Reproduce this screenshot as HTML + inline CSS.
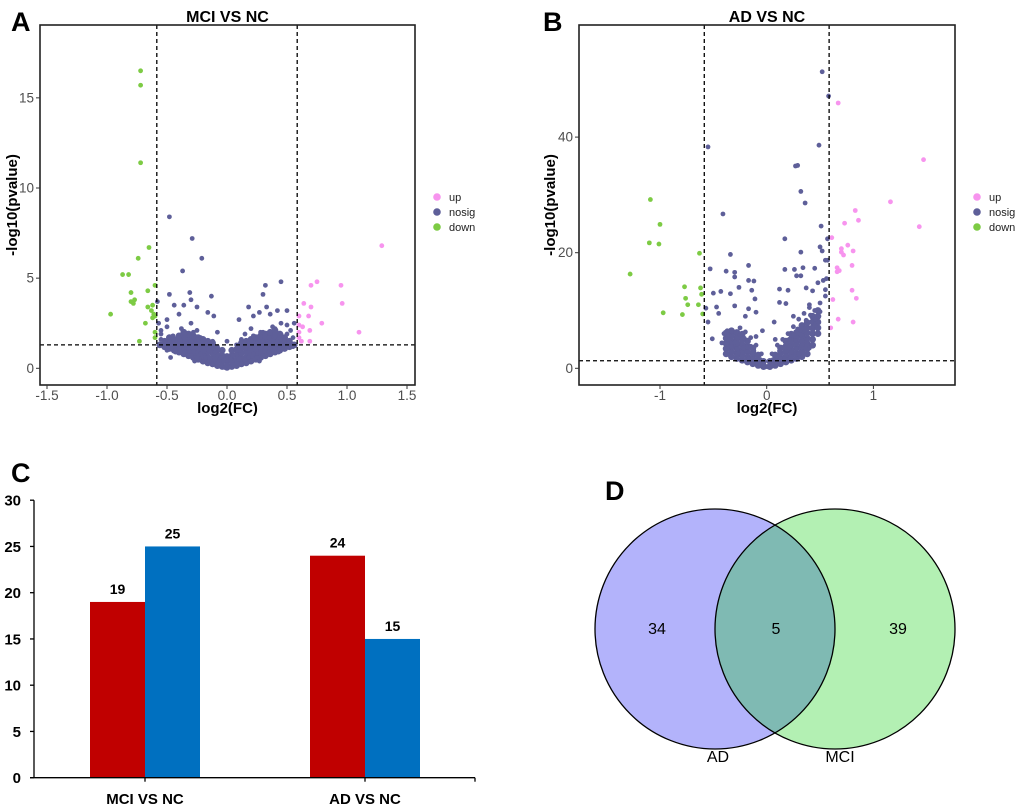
<!DOCTYPE html>
<html><head><meta charset="utf-8">
<style>
html,body{margin:0;padding:0;background:#fff;}
svg{display:block;font-family:"Liberation Sans",Arial,sans-serif;}
</style></head>
<body>
<svg id="fig" width="1020" height="807" viewBox="0 0 1020 807" xmlns="http://www.w3.org/2000/svg">
<defs>
<clipPath id="clipA"><rect x="40" y="25" width="375" height="360"/></clipPath>
<clipPath id="clipB"><rect x="579" y="25" width="376" height="360"/></clipPath>
</defs>
<g id="panelA"></g>
<g id="panelB"></g>
<g id="panelC"></g>
<g id="panelD">
  <text x="605" y="500" font-size="27" font-weight="bold">D</text>
  <circle cx="715" cy="629" r="120" fill="#b3b3fb"/>
  <circle cx="835" cy="629" r="120" fill="#b3f0b3"/>
  <path d="M775,525 A120,120 0 0 1 775,733 A120,120 0 0 1 775,525 Z" fill="#7fbab3"/>
  <circle cx="715" cy="629" r="120" fill="none" stroke="#000" stroke-width="1.3"/>
  <circle cx="835" cy="629" r="120" fill="none" stroke="#000" stroke-width="1.3"/>
  <text x="657" y="634" font-size="16" text-anchor="middle">34</text>
  <text x="776" y="634" font-size="16" text-anchor="middle">5</text>
  <text x="898" y="634" font-size="16" text-anchor="middle">39</text>
  <text x="718" y="762" font-size="16" text-anchor="middle">AD</text>
  <text x="840" y="762" font-size="16" text-anchor="middle">MCI</text>
</g>
</svg>
<script>
const NS="http://www.w3.org/2000/svg";
function mk(parent,tag,attrs,text){const e=document.createElementNS(NS,tag);for(const k in attrs)e.setAttribute(k,attrs[k]);if(text!==undefined)e.textContent=text;parent.appendChild(e);return e;}

// ---------- Panel A data ----------
const aXTicks=[-1.5,-1.0,-0.5,0.0,0.5,1.0,1.5];
const aXTickLabels=["-1.5","-1.0","-0.5","0.0","0.5","1.0","1.5"];
const aYTicks=[0,5,10,15];
const aDown=[[-0.72,16.5],[-0.72,15.7],[-0.72,11.4],[-0.65,6.7],[-0.74,6.1],[-0.87,5.2],[-0.82,5.2],[-0.8,4.2],[-0.6,4.6],[-0.66,4.3],[-0.8,3.7],[-0.78,3.6],[-0.77,3.8],[-0.66,3.4],[-0.62,3.5],[-0.63,3.2],[-0.61,3.0],[-0.62,2.8],[-0.97,3.0],[-0.68,2.5],[-0.6,2.0],[-0.6,1.7],[-0.73,1.5],[-0.6,2.9]];
const aUp=[[1.29,6.8],[0.75,4.8],[0.7,4.6],[0.95,4.6],[0.96,3.6],[0.64,3.6],[0.7,3.4],[0.6,2.9],[0.68,2.9],[0.79,2.5],[0.63,2.3],[0.69,2.1],[0.6,2.0],[1.1,2.0],[0.6,1.7],[0.62,1.5],[0.69,1.5],[0.6,2.4]];
const aNosig=[[-0.48,8.4],[-0.29,7.2],[-0.21,6.1],[-0.37,5.4],[0.45,4.8],[0.32,4.6],[-0.31,4.2],[-0.48,4.1],[-0.13,4.0],[0.3,4.1],[-0.58,3.7],[-0.3,3.8],[-0.44,3.5],[-0.36,3.5],[-0.25,3.4],[0.18,3.4],[0.33,3.4],[-0.16,3.1],[0.42,3.2],[0.5,3.2],[0.27,3.1],[-0.11,2.9],[0.22,2.9],[0.36,3.0],[-0.4,3.0],[-0.5,2.7],[-0.57,2.5],[0.56,2.5],[0.1,2.7],[-0.3,2.5],[0.45,2.5],[-0.55,2.1],[0.4,2.2],[-0.08,2.0],[0.2,2.2],[0.5,1.9],[-0.45,1.6],[0.55,1.2],[-0.47,0.6],[-0.5,1.0],[-0.43,0.9],[0.48,1.4],[-0.35,1.9],[-0.25,2.1],[0.3,2.0],[0.15,1.9],[0.0,1.5],
[-0.02,0.05],[0.02,0.1],[0,0.2],[-0.05,0.15],[0.05,0.2],[-0.08,0.3],[0.08,0.3],[-0.1,0.5],[0.1,0.5],[-0.12,0.2],[0.12,0.25],[-0.15,0.4],[0.15,0.45],[-0.18,0.6],[0.18,0.6],[-0.2,0.35],[0.2,0.4],[-0.22,0.8],[0.22,0.8],[-0.25,0.55],[0.25,0.6],[-0.28,0.9],[0.28,0.9],[-0.3,0.7],[0.3,0.7],[-0.32,1.1],[0.32,1.1],[-0.35,0.9],[0.35,0.9],[-0.38,1.3],[0.38,1.3],[-0.4,1.1],[0.4,1.1],[-0.42,1.4],[0.42,1.5],[-0.45,1.2],[0.45,1.3],[-0.48,1.5],[0.48,1.6],[-0.52,1.3],[0.52,1.4],[-0.05,0.6],[0.05,0.7],[-0.1,0.9],[0.1,1.0],[-0.15,1.0],[0.15,1.1],[-0.2,1.2],[0.2,1.3],[-0.25,1.3],[0.25,1.4],[-0.3,1.5],[0.3,1.5],[-0.35,1.6],[0.35,1.7],[-0.4,1.7],[0.4,1.8],[-0.45,1.8],[0.45,1.9],[-0.12,1.5],[0.12,1.6],[-0.22,1.7],[0.22,1.8],[-0.28,2.0],[0.28,2.0],[-0.38,2.2],[0.38,2.3],[-0.5,2.3],[0.5,2.4],[-0.08,1.2],[0.08,1.3],[-0.18,1.4],[0.18,1.5],[-0.33,1.3],[0.33,1.3],[-0.43,1.0],[0.43,0.9],[-0.27,0.4],[0.27,0.4],[-0.03,0.4],[0.03,0.5],[-0.55,1.6],[0.55,1.7],[-0.55,1.9],[0.53,2.1]];
const aCore=[[0,0.05],[0,0.35],[0,0.65],[-0.04,0.1],[0.04,0.1],[-0.04,0.4],[0.04,0.4],[-0.04,0.7],[0.04,0.7],[-0.04,1.0],[0.04,1.0],
[-0.08,0.15],[0.08,0.15],[-0.08,0.45],[0.08,0.45],[-0.08,0.75],[0.08,0.75],[-0.08,1.05],[0.08,1.05],
[-0.12,0.25],[0.12,0.25],[-0.12,0.55],[0.12,0.55],[-0.12,0.85],[0.12,0.85],[-0.12,1.15],[0.12,1.15],[-0.12,1.4],[0.12,1.4],
[-0.16,0.3],[0.16,0.3],[-0.16,0.6],[0.16,0.6],[-0.16,0.9],[0.16,0.9],[-0.16,1.2],[0.16,1.2],[-0.16,1.5],[0.16,1.5],
[-0.2,0.4],[0.2,0.4],[-0.2,0.7],[0.2,0.7],[-0.2,1.0],[0.2,1.0],[-0.2,1.3],[0.2,1.3],[-0.2,1.6],[0.2,1.6],
[-0.24,0.5],[0.24,0.5],[-0.24,0.8],[0.24,0.8],[-0.24,1.1],[0.24,1.1],[-0.24,1.4],[0.24,1.4],[-0.24,1.7],[0.24,1.7],
[-0.28,0.6],[0.28,0.6],[-0.28,0.9],[0.28,0.9],[-0.28,1.2],[0.28,1.2],[-0.28,1.5],[0.28,1.5],[-0.28,1.8],[0.28,1.8],
[-0.32,0.7],[0.32,0.7],[-0.32,1.0],[0.32,1.0],[-0.32,1.3],[0.32,1.3],[-0.32,1.6],[0.32,1.6],[-0.32,1.9],[0.32,1.9],
[-0.36,0.8],[0.36,0.8],[-0.36,1.1],[0.36,1.1],[-0.36,1.4],[0.36,1.4],[-0.36,1.7],[0.36,1.7],[-0.36,2.0],[0.36,2.0],
[-0.4,0.9],[0.4,0.9],[-0.4,1.2],[0.4,1.2],[-0.4,1.5],[0.4,1.5],[-0.4,1.8],[0.4,1.8],[0.4,2.1],
[-0.44,1.0],[0.44,1.0],[-0.44,1.3],[0.44,1.3],[-0.44,1.6],[0.44,1.6],[0.44,1.9],
[-0.48,1.1],[0.48,1.1],[-0.48,1.4],[0.48,1.4],[-0.48,1.7],[0.48,1.7],
[-0.52,1.2],[0.52,1.2],[-0.52,1.5],[0.52,1.5],[-0.56,1.3],[0.56,1.3]];

// ---------- Panel B data ----------
const bXTicks=[-1,0,1];
const bXTickLabels=["-1","0","1"];
const bYTicks=[0,20,40];
const bDown=[[-1.28,16.3],[-1.09,29.2],[-1.0,24.9],[-1.1,21.7],[-1.01,21.5],[-0.63,19.9],[-0.77,14.1],[-0.62,13.9],[-0.61,12.8],[-0.76,12.1],[-0.74,11.0],[-0.64,11.0],[-0.97,9.6],[-0.79,9.3],[-0.6,9.4]];
const bUp=[[0.67,45.9],[1.47,36.1],[1.16,28.8],[0.83,27.3],[0.86,25.6],[0.73,25.1],[1.43,24.5],[0.61,22.6],[0.76,21.3],[0.7,20.7],[0.7,20.1],[0.81,20.3],[0.72,19.6],[0.66,17.4],[0.68,16.9],[0.66,16.7],[0.8,17.8],[0.8,13.5],[0.84,12.1],[0.62,11.9],[0.67,8.5],[0.81,8.0],[0.6,7.0]];
const bNosig=[[0.52,51.3],[0.58,47.1],[-0.55,38.3],[0.49,38.6],[0.27,35.0],[0.29,35.1],[0.32,30.6],[0.36,28.6],[-0.41,26.7],[0.51,24.6],[0.17,22.4],[0.57,22.4],[0.5,21.0],[0.32,20.1],[0.52,20.3],[-0.34,19.7],[0.55,18.7],[0.57,18.7],[-0.17,17.8],[-0.53,17.2],[0.17,17.1],[0.26,17.1],[0.34,17.4],[0.45,17.3],[-0.38,16.8],[-0.3,16.6],[-0.3,15.8],[-0.17,15.2],[-0.12,15.1],[0.28,16.0],[0.32,16.0],[0.53,15.2],[0.56,15.5],[0.48,14.8],[-0.5,13.0],[-0.43,13.3],[-0.34,12.9],[-0.26,14.0],[-0.14,13.5],[-0.11,12.0],[0.12,13.7],[0.2,13.5],[0.37,13.9],[0.43,13.4],[0.55,13.6],[-0.57,10.4],[-0.47,10.6],[-0.3,10.8],[-0.17,10.3],[-0.1,9.7],[0.12,11.4],[0.18,11.2],[0.4,11.0],[0.5,11.3],[0.55,12.5],[-0.55,8.0],[-0.45,9.5],[-0.2,9.0],[0.07,8.0],[0.25,9.0],[0.44,9.0],[0.46,8.5],[-0.51,5.1],[-0.42,4.4],[-0.1,5.5],[0.38,4.6],[-0.04,6.5],[0.08,5.0],
[0,0.3],[-0.03,0.8],[0.03,0.8],[-0.06,1.5],[0.06,1.5],[-0.09,2.3],[0.09,2.2],[-0.12,3],[0.12,3],[-0.15,3.8],[0.15,3.6],[-0.18,4.6],[0.18,4.3],[-0.21,5.2],[0.21,5],[-0.25,5.8],[0.25,5.8],[-0.29,6.2],[0.29,6.8],[-0.33,6.4],[0.33,7.5],[-0.37,6.5],[0.37,8.3],[-0.4,6],[0.41,9.2],[0.45,10],[-0.08,1],[0.08,1],[-0.13,1.6],[0.13,1.6],[-0.18,2.2],[0.18,2.2],[-0.23,2.8],[0.23,2.8],[-0.28,3.4],[0.28,3.4],[-0.33,3.8],[0.33,4],[-0.38,4.2],[0.38,5],[0.43,6.5],[-0.05,2.5],[0.05,2.5],[-0.1,4],[0.1,4],[-0.15,5.3],[0.15,5],[-0.2,6.3],[0.2,6],[-0.25,7],[0.25,7.2],[0.3,8.5],[0.35,9.5],[0.4,10.5],[0.45,7.5],[-0.35,5],[-0.3,4.5],[-0.22,3.5],[0.22,3.8],[0.27,4.8],[0.32,5.8],[0.36,6.5],[0.42,8],[0.47,9],[0.5,9.8],[-0.12,1.2],[0.12,1.3],[-0.02,0.2],[0.02,0.2],[-0.27,2.6],[0.4,3.5],[0.17,1.6],[-0.17,1.6],[0.3,2.5],[-0.06,0.6],[0.06,0.6]];
const bCore=[[-0.03,0.3],[0.03,0.3],[-0.03,1.2],[0.03,1.2],
[-0.08,0.5],[0.08,0.5],[-0.08,1.4],[0.08,1.4],[-0.08,2.3],[0.08,2.3],
[-0.13,0.8],[0.13,0.8],[-0.13,1.7],[0.13,1.7],[-0.13,2.6],[0.13,2.6],[-0.13,3.5],[0.13,3.5],
[-0.18,1.1],[0.18,1.1],[-0.18,2.0],[0.18,2.0],[-0.18,2.9],[0.18,2.9],[-0.18,3.8],[0.18,3.8],[-0.18,4.7],[0.18,4.7],
[-0.23,1.4],[0.23,1.4],[-0.23,2.3],[0.23,2.3],[-0.23,3.2],[0.23,3.2],[-0.23,4.1],[0.23,4.1],[-0.23,5.0],[0.23,5.0],[-0.23,5.9],[0.23,5.9],
[-0.28,1.7],[0.28,1.7],[-0.28,2.6],[0.28,2.6],[-0.28,3.5],[0.28,3.5],[-0.28,4.4],[0.28,4.4],[-0.28,5.3],[0.28,5.3],[-0.28,6.2],[0.28,6.2],
[-0.33,2.0],[0.33,2.0],[-0.33,2.9],[0.33,2.9],[-0.33,3.8],[0.33,3.8],[-0.33,4.7],[0.33,4.7],[-0.33,5.6],[0.33,5.6],[-0.33,6.5],[0.33,6.5],[0.33,7.4],
[-0.38,2.5],[0.38,2.5],[-0.38,3.4],[0.38,3.4],[-0.38,4.3],[0.38,4.3],[-0.38,5.2],[0.38,5.2],[-0.38,6.1],[0.38,6.1],[0.38,7.0],[0.38,7.9],
[0.43,4.0],[0.43,5.0],[0.43,6.0],[0.43,7.0],[0.43,8.0],[0.43,9.0],
[0.48,6.0],[0.48,7.0],[0.48,8.0],[0.48,9.0],[0.48,10.0]];

// ---------- Panel C data ----------
const cCategories=["MCI VS NC","AD VS NC"];
const cRedValues=[19,24];
const cBlueValues=[25,15];
const cYTicks=[0,5,10,15,20,25,30];

const COL_UP="#f794ee", COL_NO="#5e5f99", COL_DOWN="#7dcb44";

function volcano(gid,cfg){
  const g=document.getElementById(gid);
  const sx=v=>cfg.x0+v*cfg.kx, sy=v=>cfg.y0-v*cfg.ky;
  const L=cfg.box[0],T=cfg.box[1],R=cfg.box[2],B=cfg.box[3];
  const lab=mk(g,"text",{x:cfg.letterX,y:31,"font-size":27,"font-weight":"bold"},cfg.letter);
  
  
  const t=mk(g,"text",{x:(L+R)/2,y:22,"font-size":16,"font-weight":"bold","text-anchor":"middle"},cfg.title);
  
  
  const pts=mk(g,"g",{"clip-path":"url(#"+cfg.clip+")"});
  
  
  cfg.core.forEach(p=>{
    const c=mk(pts,"circle",{cx:sx(p[0]),cy:sy(p[1]),r:3.4,fill:COL_NO});
    
    
  });
  const series=[[cfg.nosig,COL_NO,'nosig'],[cfg.down,COL_DOWN,'down'],[cfg.up,COL_UP,'up']];
  series.forEach(s=>{s[0].forEach(p=>{
    const c=mk(pts,"circle",{cx:sx(p[0]),cy:sy(p[1]),r:cfg.r,fill:s[1]});
    
    
  });});
  [-0.585,0.585].forEach(v=>{
    const l=mk(g,"line",{x1:sx(v),x2:sx(v),y1:T,y2:B,stroke:"#000","stroke-width":1.3,"stroke-dasharray":"4,3"});
    
    
  });
  const h=mk(g,"line",{x1:L,x2:R,y1:sy(1.301),y2:sy(1.301),stroke:"#000","stroke-width":1.3,"stroke-dasharray":"4,3"});
  
  
  const box=mk(g,"rect",{x:L,y:T,width:R-L,height:B-T,fill:"none",stroke:"#222","stroke-width":1.6});
  
  
  cfg.xt.forEach((v,i)=>{
    mk(g,"line",{x1:sx(v),x2:sx(v),y1:B,y2:B+4,stroke:"#333"});
    const tx=mk(g,"text",{x:sx(v),y:B+15,"font-size":13.5,fill:"#4d4d4d","text-anchor":"middle"},cfg.xtl[i]);
    
    
  });
  cfg.yt.forEach(v=>{
    mk(g,"line",{x1:L-4,x2:L,y1:sy(v),y2:sy(v),stroke:"#333"});
    const ty=mk(g,"text",{x:L-6,y:sy(v)+4.5,"font-size":13.5,fill:"#4d4d4d","text-anchor":"end"},String(v));
    
    
  });
  const xl=mk(g,"text",{x:(L+R)/2,y:413,"font-size":15,"font-weight":"bold","text-anchor":"middle"},"log2(FC)");
  
  
  const yl=mk(g,"text",{x:0,y:0,"font-size":15,"font-weight":"bold","text-anchor":"middle",transform:"translate("+cfg.ylx+",205) rotate(-90)"},"-log10(pvalue)");
  
  
  const leg=mk(g,"g",{});
  
  
  [["up",COL_UP],["nosig",COL_NO],["down",COL_DOWN]].forEach((e,i)=>{
    const y=197+i*15;
    const c=mk(leg,"circle",{cx:cfg.legX,cy:y,r:3.8,fill:e[1]});
    
    
    const tt=mk(leg,"text",{x:cfg.legX+12,y:y+4,"font-size":11,fill:"#222"},e[0]);
    
    
  });
}

volcano("panelA",{x0:227,kx:120,y0:368.3,ky:18.03,box:[40,25,415,385],clip:"clipA",r:2.4,
  letter:"A",letterX:11,title:"MCI VS NC",xt:aXTicks,xtl:aXTickLabels,yt:aYTicks,ylx:17,legX:437,
  nosig:aNosig,core:aCore,up:aUp,down:aDown});
volcano("panelB",{x0:766.7,kx:106.7,y0:368.3,ky:5.78,box:[579,25,955,385],clip:"clipB",r:2.4,
  letter:"B",letterX:543,title:"AD VS NC",xt:bXTicks,xtl:bXTickLabels,yt:bYTicks,ylx:555,legX:977,
  nosig:bNosig,core:bCore,up:bUp,down:bDown});

// ---------- Panel C ----------
(function(){
  const g=document.getElementById("panelC");
  const y0=777.7,ky=9.25,axX=34,axR=475;
  const sy=v=>y0-v*ky;
  const centers=[145,365],bw=55;
  const lab=mk(g,"text",{x:11,y:482,"font-size":27,"font-weight":"bold"},"C");
  
  
  cCategories.forEach((cat,i)=>{
    const c=centers[i];
    const r=mk(g,"rect",{x:c-bw,y:sy(cRedValues[i]),width:bw,height:y0-sy(cRedValues[i]),fill:"#c00000"});
    
    
    const b=mk(g,"rect",{x:c,y:sy(cBlueValues[i]),width:bw,height:y0-sy(cBlueValues[i]),fill:"#0070c0"});
    
    
    const rv=mk(g,"text",{x:c-bw/2,y:sy(cRedValues[i])-8,"font-size":14,"font-weight":"bold","text-anchor":"middle"},String(cRedValues[i]));
    
    
    const bv=mk(g,"text",{x:c+bw/2,y:sy(cBlueValues[i])-8,"font-size":14,"font-weight":"bold","text-anchor":"middle"},String(cBlueValues[i]));
    
    
    mk(g,"line",{x1:c,x2:c,y1:y0,y2:y0+4,stroke:"#000","stroke-width":1.3});
    const cl=mk(g,"text",{x:c,y:804,"font-size":15,"font-weight":"bold","text-anchor":"middle"},cat);
    
    
  });
  const ya=mk(g,"line",{x1:axX,x2:axX,y1:sy(30),y2:y0,stroke:"#000","stroke-width":1.3});
  
  
  const xa=mk(g,"line",{x1:axX-4,x2:axR,y1:y0,y2:y0,stroke:"#000","stroke-width":1.3});
  
  
  mk(g,"line",{x1:axR,x2:axR,y1:y0,y2:y0+4,stroke:"#000","stroke-width":1.3});
  cYTicks.forEach(v=>{
    mk(g,"line",{x1:axX-4,x2:axX,y1:sy(v),y2:sy(v),stroke:"#000","stroke-width":1.3});
    const t=mk(g,"text",{x:21,y:sy(v)+5.5,"font-size":15,"font-weight":"bold","text-anchor":"end"},String(v));
    
    
  });
})();
</script>
</body></html>
